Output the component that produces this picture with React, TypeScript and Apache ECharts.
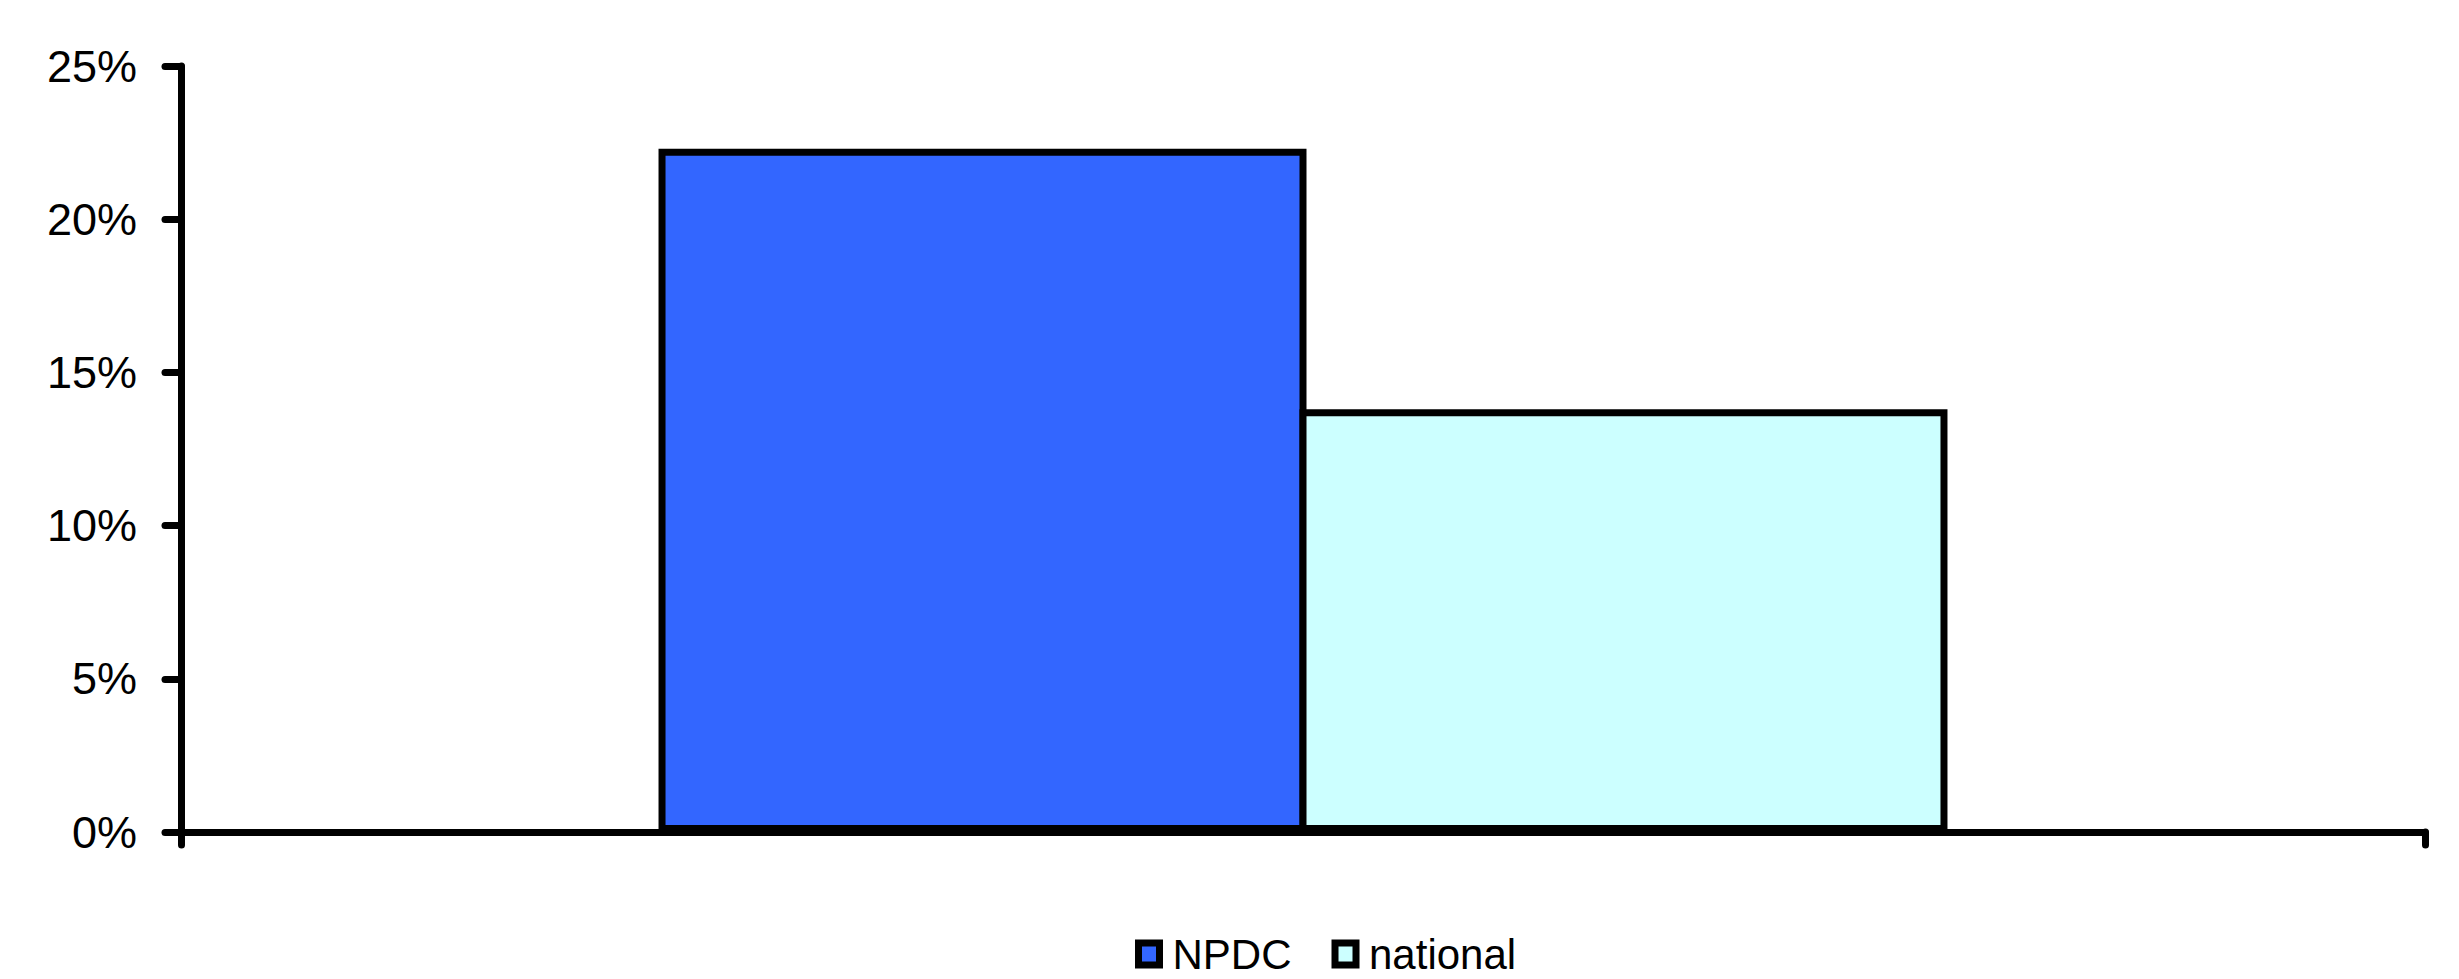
import React, { useEffect, useRef } from "react";
import * as echarts from "echarts";

const categories: string[] = [""];
const seriesNames: string[] = ["NPDC", "national"];
const npdcValues: number[] = [22.3];
const nationalValues: number[] = [13.8];
const seriesColors: string[] = ["#3366FF", "#CCFFFF"];
const yTicks = { min: 0, max: 25, interval: 5 };

const FONT = "'Liberation Sans', Arial, sans-serif";

export default function App() {
  const ref = useRef<HTMLDivElement>(null);
  useEffect(() => {
    if (!ref.current) return;
    const chart = echarts.init(ref.current, null, { renderer: "svg" });
    const seriesData = [npdcValues, nationalValues];
    chart.setOption({
      animation: false,
      backgroundColor: "#ffffff",
      grid: { left: 181, right: 34, top: 66, bottom: 147, containLabel: false },
      legend: {
        data: seriesNames,
        left: 1130,
        top: 928,
        icon: "rect",
        itemWidth: 21,
        itemHeight: 22,
        itemGap: 40,
        itemStyle: { borderColor: "#000", borderWidth: 7 },
        textStyle: { fontFamily: FONT, fontSize: 42, lineHeight: 42, color: "#000", padding: [0, 0, 0, 8] },
      },
      xAxis: {
        type: "category",
        data: categories,
        boundaryGap: true,
        axisLine: { lineStyle: { color: "#000", width: 7, cap: "round" } },
        axisTick: { show: true, inside: false, length: 13, lineStyle: { color: "#000", width: 7, cap: "round" } },
        axisLabel: { show: false },
        splitLine: { show: false },
      },
      yAxis: {
        type: "value",
        min: yTicks.min,
        max: yTicks.max,
        interval: yTicks.interval,
        axisLine: { show: true, lineStyle: { color: "#000", width: 7, cap: "round" } },
        axisTick: { show: true, inside: false, length: 16, lineStyle: { color: "#000", width: 7, cap: "round" } },
        axisLabel: { formatter: "{value}%", fontFamily: FONT, fontSize: 45, color: "#000", margin: 44 },
        splitLine: { show: false },
      },
      series: seriesNames.map((name, i) => ({
        name,
        type: "bar",
        data: seriesData[i],
        barGap: "-1.08%",
        barCategoryGap: "42.56%",
        itemStyle: { color: seriesColors[i], borderColor: "#000", borderWidth: 7 },
      })),
    });
    return () => chart.dispose();
  }, []);
  return (
    <div
      ref={ref}
      style={{ position: "fixed", left: 0, top: 0, width: 2459, height: 979 }}
    />
  );
}
